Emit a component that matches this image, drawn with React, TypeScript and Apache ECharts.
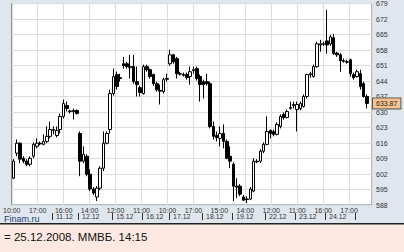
import React, { useEffect, useRef } from "react";
import * as echarts from "echarts";

// Trading days shown and the number of hourly candles in each
const DAYS = ["10.12", "11.12", "12.12", "15.12", "16.12", "17.12", "18.12", "19.12", "22.12", "23.12", "24.12", "25.12"];
const DAY_COUNTS = [12, 8, 10, 9, 8, 10, 9, 10, 9, 9, 9, 4];

const OPEN = [
  600.1, 611.4, 615.9, 609.1, 607.8, 606.4, 610.0, 614.5, 615.9, 615.4,
  616.7, 619.0, 621.7, 619.4, 622.1, 628.0, 632.9, 630.5, 630.7, 630.7,
  620.3, 607.8, 610.0, 601.9, 595.2, 591.6, 595.6, 604.6, 615.9, 622.1,
  638.3, 646.9, 645.5, 651.8, 651.8, 650.0, 650.5, 643.7, 641.0, 638.3,
  650.5, 649.1, 646.9, 642.8, 639.7, 639.2, 645.1, 651.8, 655.8, 654.1,
  647.3, 646.9, 646.9, 646.0, 649.1, 649.6, 646.0, 643.7, 643.7, 642.8,
  623.5, 619.4, 618.1, 620.3, 616.7, 610.0, 606.4, 596.5, 596.5, 591.6,
  590.7, 590.7, 594.3, 607.8, 607.8, 612.3, 615.4, 621.7, 621.2, 619.9,
  623.5, 628.9, 627.5, 631.6, 632.9, 631.1, 631.6, 632.5, 637.0, 646.9,
  646.0, 650.5, 660.3, 660.8, 662.1, 660.8, 663.5, 656.6, 655.8, 653.2,
  652.7, 653.6, 646.9, 646.0, 647.3, 642.8, 637.0,
];
const CLOSE = [
  607.8, 615.9, 608.7, 607.8, 606.4, 609.1, 615.4, 615.9, 615.6, 616.7,
  619.0, 622.1, 622.1, 621.7, 628.0, 633.8, 631.6, 630.2, 630.2, 629.3,
  607.8, 610.9, 601.9, 595.2, 593.4, 595.6, 604.6, 615.9, 620.3, 638.3,
  646.0, 641.5, 645.1, 650.9, 650.5, 650.5, 643.7, 642.4, 638.8, 650.5,
  649.1, 646.0, 642.8, 640.1, 639.4, 644.6, 644.8, 655.8, 652.7, 647.3,
  647.1, 646.6, 645.5, 648.2, 648.7, 645.1, 642.4, 642.4, 642.8, 623.5,
  619.0, 618.5, 620.3, 616.7, 609.1, 607.8, 596.5, 596.1, 592.9, 590.2,
  590.5, 595.2, 607.8, 607.5, 612.3, 615.4, 621.2, 620.3, 619.9, 624.4,
  628.0, 627.5, 630.2, 632.0, 633.4, 633.4, 633.8, 637.0, 646.9, 647.3,
  650.5, 660.8, 660.8, 660.6, 660.3, 663.9, 656.3, 655.8, 653.2, 652.9,
  652.5, 647.3, 645.5, 648.2, 641.5, 637.0, 633.87,
];
const LOW = [
  599.7, 610.0, 606.9, 606.9, 605.5, 605.5, 609.1, 613.6, 615.0, 615.0,
  615.9, 618.1, 619.9, 618.5, 620.3, 627.1, 630.2, 629.3, 626.6, 628.9,
  601.0, 606.9, 601.0, 594.3, 592.5, 589.8, 594.7, 603.3, 615.4, 620.3,
  637.4, 640.1, 643.7, 649.6, 649.6, 645.1, 642.8, 637.0, 637.0, 637.9,
  648.2, 645.1, 641.9, 639.2, 633.4, 638.3, 643.7, 650.9, 651.8, 645.1,
  646.4, 646.0, 644.6, 642.4, 647.3, 644.2, 634.7, 636.1, 641.9, 622.6,
  617.6, 616.7, 614.5, 613.6, 608.7, 604.6, 589.8, 591.1, 592.0, 589.8,
  588.9, 590.2, 593.8, 606.9, 606.9, 611.4, 615.0, 618.1, 619.0, 619.4,
  622.6, 626.6, 627.1, 631.1, 631.6, 621.2, 630.7, 632.0, 636.1, 645.5,
  645.5, 650.0, 657.2, 659.9, 656.3, 659.9, 655.8, 654.9, 648.2, 652.3,
  651.8, 646.0, 644.6, 645.5, 640.1, 636.5, 631.6,
];
const HIGH = [
  608.7, 617.6, 616.3, 610.0, 608.7, 610.0, 616.3, 618.1, 616.7, 619.9,
  623.5, 625.7, 623.5, 623.5, 629.3, 635.6, 634.7, 631.1, 631.6, 631.1,
  621.2, 614.5, 610.9, 604.2, 596.1, 596.5, 605.5, 621.2, 621.2, 640.1,
  649.6, 648.2, 647.3, 654.9, 652.7, 655.8, 655.8, 650.5, 641.9, 651.4,
  651.4, 649.6, 647.3, 643.7, 642.4, 645.5, 647.3, 658.1, 656.3, 654.9,
  648.2, 647.8, 647.8, 650.5, 650.5, 650.5, 646.9, 644.6, 647.3, 643.7,
  625.7, 621.2, 623.5, 624.4, 617.6, 614.5, 607.3, 600.1, 597.4, 592.5,
  592.0, 596.1, 609.1, 608.7, 613.2, 616.3, 628.0, 622.1, 622.1, 625.3,
  628.9, 629.8, 631.1, 634.7, 634.7, 634.7, 634.7, 637.9, 647.3, 648.2,
  651.4, 661.7, 662.6, 661.7, 676.1, 664.8, 665.3, 657.2, 656.6, 654.1,
  653.6, 654.1, 647.8, 649.1, 649.1, 643.7, 637.9,
];

// Time labels on the vertical grid lines, left to right
const TIME_LABELS = ["10:00", "17:00", "16:00", "14:00", "12:00", "11:00", "10:00", "17:00", "15:00", "14:00", "12:00", "11:00", "16:00", "17:00"];

const Y_MIN = 588;
const Y_MAX = 679;
const Y_STEP = 7;
const SLOTS = 108; // candle slots on the axis (last one empty)
const TICK_STEP = 7.78; // grid line spacing, in candle slots

const FOOTER_TEXT = "= 25.12.2008. ММВБ. 14:15";

const W = 404;
const H = 252;
const GRID = { left: 4, right: 32, top: 2, bottom: 47 };
const FONT = "Liberation Sans, Arial, sans-serif";

export default function App() {
  const ref = useRef<HTMLDivElement>(null);

  useEffect(() => {
    const chart = echarts.init(ref.current!, null, { renderer: "svg" });

    const categories: string[] = [];
    const dayStarts: number[] = [];
    DAYS.forEach((d, di) => {
      dayStarts.push(categories.length);
      for (let k = 0; k < DAY_COUNTS[di]; k++) categories.push(`${d} ${k + 1}`);
    });
    while (categories.length < SLOTS) categories.push("");

    const candles = OPEN.map((o, i) => [o, CLOSE[i], LOW[i], HIGH[i]]);
    const last = CLOSE[CLOSE.length - 1];

    chart.setOption({
      animation: false,
      backgroundColor: "#e0e6ee",
      grid: {
        ...GRID,
        show: true,
        backgroundColor: "#ffffff",
        borderColor: "#6f7378",
        borderWidth: 1,
      },
      xAxis: [
        {
          type: "category",
          data: categories,
          boundaryGap: true,
          axisLine: { show: false },
          axisTick: { show: false },
          axisLabel: { show: false },
          splitLine: { show: false },
        },
        {
          type: "value",
          min: 0,
          max: SLOTS,
          interval: TICK_STEP,
          position: "bottom",
          axisLine: { show: false },
          axisTick: { show: false },
          splitLine: { show: true, lineStyle: { color: "#dcdcdc", width: 1 } },
          axisLabel: {
            show: true,
            margin: 2,
            fontSize: 7,
            fontFamily: FONT,
            color: "#333",
            showMaxLabel: false,
            formatter: (v: number) => {
              const k = Math.round(v / TICK_STEP);
              if (Math.abs(k * TICK_STEP - v) > 0.01) return "";
              return TIME_LABELS[k] ?? "";
            },
          },
        },
      ],
      yAxis: {
        type: "value",
        position: "right",
        min: Y_MIN,
        max: Y_MAX,
        interval: Y_STEP,
        axisLine: { show: false },
        axisTick: { show: false },
        splitLine: { show: true, lineStyle: { color: "#dcdcdc", width: 1 } },
        axisLabel: {
          margin: 4,
          fontSize: 7,
          fontFamily: FONT,
          color: "#333",
        },
      },
      series: [
        {
          type: "candlestick",
          xAxisIndex: 0,
          data: candles,
          barWidth: 3,
          itemStyle: {
            color: "#ffffff",
            color0: "#000000",
            borderColor: "#000000",
            borderColor0: "#000000",
            borderWidth: 1,
          },
          markLine: {
            silent: true,
            symbol: "none",
            animation: false,
            lineStyle: { color: "rgba(0,0,0,0)", width: 1, type: "solid" },
            data: [{ yAxis: last }],
            label: {
              show: true,
              position: "end",
              distance: 1,
              formatter: last.toFixed(2),
              backgroundColor: "#f8c38e",
              borderColor: "#555",
              borderWidth: 1,
              padding: [2, 3, 1, 3],
              fontSize: 7,
              fontFamily: FONT,
              color: "#222",
            },
          },
        },
      ],
    });

    const px = (i: number) => chart.convertToPixel({ xAxisIndex: 0 }, i) as number;
    const bw = px(1) - px(0);
    const plotRight = W - GRID.right;
    const dateEls: any[] = [];
    dayStarts.forEach((s, di) => {
      if (di === 0) return;
      const left = Math.round(px(s) - bw / 2);
      dateEls.push({
        type: "rect",
        shape: { x: left, y: 213, width: 1, height: 7 },
        style: { fill: "#333" },
      });
      if (left + 22 < plotRight) {
        dateEls.push({
          type: "text",
          x: left + 4,
          y: 216.5,
          style: {
            text: DAYS[di],
            fontSize: 7,
            fontFamily: FONT,
            fill: "#333",
            verticalAlign: "middle",
            align: "left",
          },
        });
      }
    });

    chart.setOption({
      graphic: [
        ...dateEls,
        {
          type: "text",
          x: 4,
          y: 218.5,
          style: {
            text: "Finam.ru",
            fontSize: 9,
            fontFamily: FONT,
            fill: "#253f6e",
            verticalAlign: "middle",
          },
        },
        {
          type: "rect",
          shape: { x: 0, y: 224, width: W, height: H - 224 },
          style: { fill: "#fde9e2" },
        },
        {
          type: "rect",
          shape: { x: 0, y: 223, width: W, height: 1.5 },
          style: { fill: "#222" },
        },
        {
          type: "text",
          x: 4,
          y: 237,
          style: {
            text: FOOTER_TEXT,
            fontSize: 11.5,
            fontFamily: FONT,
            fill: "#111",
            verticalAlign: "middle",
          },
        },
      ],
    });

    return () => chart.dispose();
  }, []);

  return (
    <div
      ref={ref}
      style={{ position: "fixed", left: 0, top: 0, width: W, height: H }}
    />
  );
}
